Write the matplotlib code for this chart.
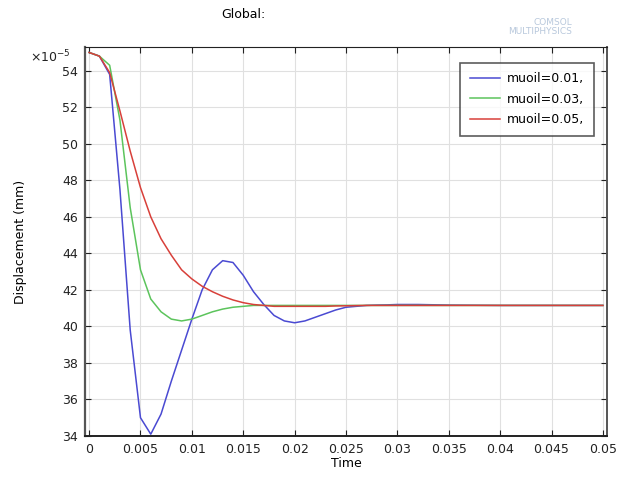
import numpy as np
import matplotlib.pyplot as plt

# time axis (s) and displacement (x1e-5 mm)
time = [0.000, 0.001, 0.002, 0.003, 0.004, 0.005, 0.006, 0.007, 0.008, 0.009,
        0.010, 0.011, 0.012, 0.013, 0.014, 0.015, 0.016, 0.017, 0.018, 0.019,
        0.020, 0.021, 0.022, 0.023, 0.024, 0.025, 0.026, 0.027, 0.028, 0.029,
        0.030, 0.032, 0.035, 0.040, 0.045, 0.050]

disp_001 = [55.0, 54.8, 53.8, 47.5, 39.8, 35.0, 34.1, 35.2, 37.0, 38.7,
            40.4, 42.0, 43.1, 43.6, 43.5, 42.8, 41.9, 41.2, 40.6, 40.3,
            40.2, 40.3, 40.5, 40.7, 40.9, 41.05, 41.1, 41.15, 41.17, 41.18,
            41.2, 41.2, 41.17, 41.15, 41.15, 41.15]

disp_003 = [55.0, 54.8, 54.3, 51.3, 46.5, 43.1, 41.5, 40.8, 40.4, 40.3,
            40.4, 40.6, 40.8, 40.95, 41.05, 41.1, 41.15, 41.15, 41.15, 41.15,
            41.15, 41.15, 41.15, 41.15, 41.15, 41.15, 41.15, 41.15, 41.15, 41.15,
            41.15, 41.15, 41.15, 41.15, 41.15, 41.15]

disp_005 = [55.0, 54.8, 53.9, 51.8, 49.6, 47.6, 46.0, 44.8, 43.9, 43.1,
            42.6, 42.2, 41.9, 41.65, 41.45, 41.3, 41.2, 41.15, 41.1, 41.1,
            41.1, 41.1, 41.1, 41.1, 41.12, 41.13, 41.14, 41.15, 41.15, 41.15,
            41.15, 41.15, 41.15, 41.15, 41.15, 41.15]

labels = ['muoil=0.01,', 'muoil=0.03,', 'muoil=0.05,']
colors = ['#4a4ad2', '#5cc45c', '#d8403a']

xticks = [0, 0.005, 0.01, 0.015, 0.02, 0.025, 0.03, 0.035, 0.04, 0.045, 0.05]
xtick_labels = ['0', '0.005', '0.01', '0.015', '0.02', '0.025', '0.03',
                '0.035', '0.04', '0.045', '0.05']
yticks = [34, 36, 38, 40, 42, 44, 46, 48, 50, 52, 54]

plt.rcParams['font.size'] = 9

fig = plt.figure(figsize=(6.18, 4.78), dpi=100)
ax = fig.add_axes([85/618, 1-436/478, (607-85)/618, (436-47)/478])

for y, lab, c in zip([disp_001, disp_003, disp_005], labels, colors):
    ax.plot(time, y, color=c, lw=1.1, label=lab)

ax.set_xlim(-0.0004, 0.0504)
ax.set_ylim(34, 55.3)
ax.set_xticks(xticks)
ax.set_xticklabels(xtick_labels)
ax.set_yticks(yticks)
ax.grid(True, color='#e0e0e0', lw=0.8)
ax.tick_params(direction='in', top=True, right=True, length=4, colors='#222222',
               labelcolor='#222222', pad=5)
for s in ax.spines.values():
    s.set_color('#222222')
ax.spines['left'].set_linewidth(1.6)
ax.spines['left'].set_color('#555555')
ax.spines['right'].set_linewidth(1.4)
ax.spines['right'].set_color('#555555')
ax.spines['bottom'].set_linewidth(1.4)

ax.set_xlabel('Time', labelpad=1)
ax.set_ylabel('Displacement (mm)', labelpad=25)

ax.text(-0.028, 0.975, r'$\times$10$^{-5}$', transform=ax.transAxes, ha='right',
        va='center', color='#222222')

leg = ax.legend(loc='upper right', bbox_to_anchor=(0.987, 0.975), fancybox=False,
                edgecolor='#333333', handlelength=2.4, borderpad=0.75,
                labelspacing=0.6, fontsize=9, handletextpad=0.6)
leg.get_frame().set_linewidth(1.2)

fig.text(243/618, 1-15/478, 'Global:', ha='center', va='center', fontsize=9)
fig.text(572/618, 1-27/478, 'COMSOL\nMULTIPHYSICS', ha='right', va='center',
         fontsize=6.5, color='#b8c8dc', linespacing=0.9)

fig.savefig('out.png', dpi=100)
